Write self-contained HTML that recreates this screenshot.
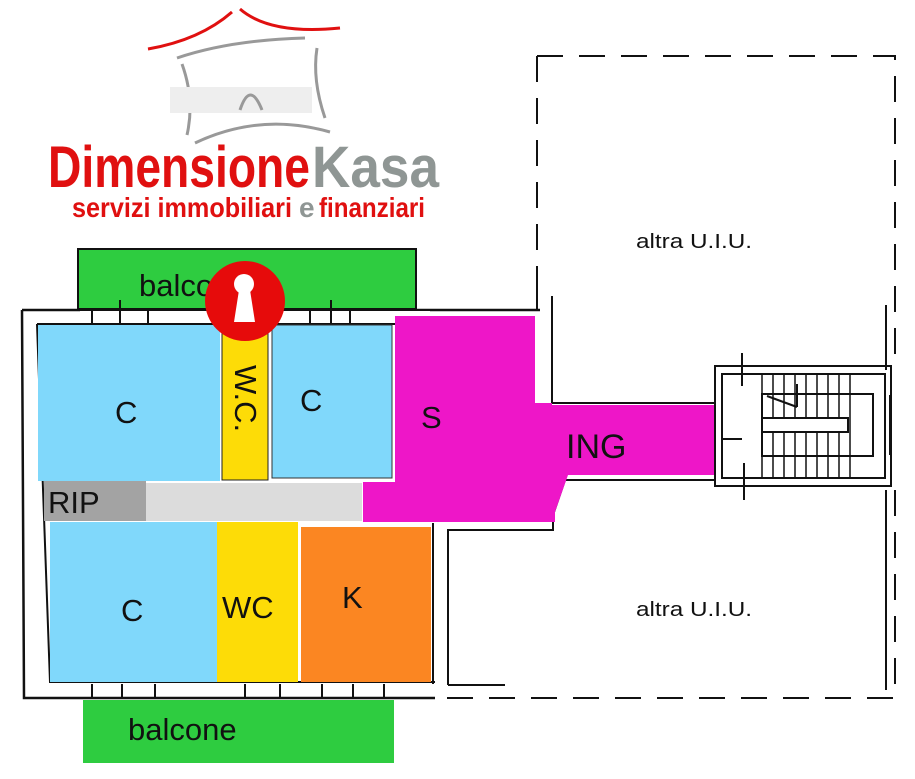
<!DOCTYPE html>
<html><head><meta charset="utf-8"><style>
html,body{margin:0;padding:0;background:#fff;}
svg{display:block}
text{font-family:"Liberation Sans",sans-serif;}
</style></head><body>
<svg width="915" height="779" viewBox="0 0 915 779" xmlns="http://www.w3.org/2000/svg">
<!-- logo -->
<path d="M148 49 Q200 40 232 12" stroke="#e01010" stroke-width="3" fill="none"/>
<path d="M240 9 Q270 35 340 28" stroke="#e01010" stroke-width="3" fill="none"/>
<path d="M177 58 Q230 40 305 38" stroke="#999" stroke-width="3" fill="none"/>
<path d="M182 64 Q195 100 187 135" stroke="#999" stroke-width="3" fill="none"/>
<path d="M317 48 Q312 80 325 118" stroke="#999" stroke-width="3" fill="none"/>
<path d="M195 143 Q260 112 330 132" stroke="#999" stroke-width="3" fill="none"/>
<rect x="170" y="87" width="142" height="26" fill="#eee"/>
<path d="M240 110 Q250 80 262 110" stroke="#999" stroke-width="3" fill="none"/>
<text x="48" y="187" font-family="Liberation Sans Narrow,Liberation Sans,sans-serif" font-weight="bold" font-size="58" fill="#e01010" textLength="262" lengthAdjust="spacingAndGlyphs">Dimensione</text>
<text x="312" y="187" font-family="Liberation Sans Narrow,Liberation Sans,sans-serif" font-weight="bold" font-size="58" fill="#8f9694" textLength="127" lengthAdjust="spacingAndGlyphs">Kasa</text>
<text x="72" y="217" font-family="Liberation Sans Narrow,Liberation Sans,sans-serif" font-weight="bold" font-size="28" fill="#e01010" textLength="220" lengthAdjust="spacingAndGlyphs">servizi immobiliari</text>
<text x="299" y="217" font-family="Liberation Sans Narrow,Liberation Sans,sans-serif" font-weight="bold" font-size="28" fill="#8f9694">e</text>
<text x="319" y="217" font-family="Liberation Sans Narrow,Liberation Sans,sans-serif" font-weight="bold" font-size="28" fill="#e01010" textLength="106" lengthAdjust="spacingAndGlyphs">finanziari</text>

<!-- dashed other units -->
<g stroke="#111" stroke-width="2" fill="none" stroke-dasharray="26,16">
<path d="M537 56 L895 56 L895 370"/>
<path d="M537 56 L537 295"/>
<path d="M895 490 L895 698 L420 698"/>
</g>
<g stroke="#111" stroke-width="2" fill="none">
<path d="M537 285 L537 310"/>
<path d="M552 296 L552 403 L715 403"/>
<path d="M886 305 L886 370"/>
<path d="M448 685 L448 530 L553 530 L553 515 L565 480 L715 480"/>
<path d="M886 490 L886 690"/>
<path d="M505 685 L448 685"/>
</g>

<!-- balcony top -->
<rect x="78" y="249" width="338" height="60" fill="#2ecc40" stroke="#111" stroke-width="2"/>
<text x="139" y="296" font-size="31" fill="#111">balcone</text>

<!-- outer walls -->
<path d="M22 310 L540 310 M22 310 L24 698 L435 698" stroke="#111" stroke-width="2.5" fill="none"/>
<path d="M37 324 L395 324 M37 324 L50 682 L435 682" stroke="#111" stroke-width="2" fill="none"/>
<rect x="80" y="311" width="350" height="12" fill="#fff"/>
<g stroke="#111" stroke-width="2"><line x1="120" y1="300" x2="120" y2="333"/><line x1="331" y1="300" x2="331" y2="328"/><line x1="92" y1="311" x2="92" y2="323"/><line x1="148" y1="311" x2="148" y2="323"/><line x1="310" y1="311" x2="310" y2="323"/><line x1="350" y1="311" x2="350" y2="323"/></g>

<!-- rooms -->
<rect x="38" y="325" width="182" height="156" fill="#80d8fb"/>
<rect x="222" y="330" width="46" height="150" fill="#fddc07" stroke="#222" stroke-width="1"/>
<rect x="272" y="325" width="120" height="153" fill="#80d8fb" stroke="#333" stroke-width="1"/>
<path d="M395 324 L395 316 L535 316 L535 403 L552 403 L552 405 L715 405 L715 475 L568 475 L555 512 L555 522 L363 522 L363 482 L395 482 Z" fill="#ee16c8"/>
<rect x="44" y="481" width="102" height="40" fill="#a3a3a3"/>
<rect x="146" y="483" width="216" height="38" fill="#dcdcdc"/>
<rect x="50" y="522" width="167" height="160" fill="#80d8fb"/>
<rect x="217" y="522" width="81" height="160" fill="#fddc07"/>
<rect x="301" y="527" width="130" height="155" fill="#fb8622"/>
<line x1="433" y1="523" x2="433" y2="684" stroke="#111" stroke-width="2"/>

<!-- bottom balcony -->
<rect x="83" y="700" width="311" height="63" fill="#2ecc40"/>
<g stroke="#111" stroke-width="2"><line x1="92" y1="684" x2="92" y2="697"/><line x1="122" y1="684" x2="122" y2="697"/><line x1="155" y1="684" x2="155" y2="697"/><line x1="245" y1="684" x2="245" y2="697"/><line x1="280" y1="684" x2="280" y2="697"/><line x1="322" y1="684" x2="322" y2="697"/><line x1="353" y1="684" x2="353" y2="697"/><line x1="384" y1="684" x2="384" y2="697"/></g>

<!-- stairs -->
<g stroke="#111" stroke-width="2" fill="none">
<rect x="715" y="366" width="176" height="120"/>
<rect x="722" y="374" width="163" height="104"/>
<rect x="762" y="394" width="111" height="62"/>
<rect x="762" y="418" width="86" height="14" fill="#fff"/>
<line x1="742" y1="353" x2="742" y2="386"/><line x1="744" y1="463" x2="744" y2="500"/>
<line x1="722" y1="439" x2="742" y2="439"/>
<line x1="767" y1="396" x2="797" y2="407"/><line x1="797" y1="384" x2="797" y2="407"/>
<line x1="890" y1="395" x2="890" y2="455"/>
</g>
<g stroke="#111" stroke-width="1.5">
<line x1="762" y1="374" x2="762" y2="478"/><line x1="773" y1="374" x2="773" y2="418"/><line x1="784" y1="374" x2="784" y2="418"/><line x1="795" y1="374" x2="795" y2="418"/><line x1="806" y1="374" x2="806" y2="418"/><line x1="817" y1="374" x2="817" y2="418"/><line x1="828" y1="374" x2="828" y2="418"/><line x1="839" y1="374" x2="839" y2="418"/><line x1="850" y1="374" x2="850" y2="478"/>
<line x1="773" y1="432" x2="773" y2="478"/><line x1="784" y1="432" x2="784" y2="478"/><line x1="795" y1="432" x2="795" y2="478"/><line x1="806" y1="432" x2="806" y2="478"/><line x1="817" y1="432" x2="817" y2="478"/><line x1="828" y1="432" x2="828" y2="478"/><line x1="839" y1="432" x2="839" y2="478"/>
</g>

<!-- labels -->
<g font-size="31" fill="#111">
<text x="115" y="423">C</text>
<text x="300" y="411">C</text>
<text x="421" y="428">S</text>
<text x="566" y="458" font-size="34">ING</text>
<text x="48" y="513">RIP</text>
<text x="121" y="621">C</text>
<text x="222" y="618">WC</text>
<text x="342" y="608">K</text>
<text x="128" y="740">balcone</text>
<text transform="translate(235,365) rotate(90)">W.C.</text>
</g>
<text x="636" y="248" font-size="20" fill="#111" textLength="116" lengthAdjust="spacingAndGlyphs">altra U.I.U.</text>
<text x="636" y="616" font-size="20" fill="#111" textLength="116" lengthAdjust="spacingAndGlyphs">altra U.I.U.</text>

<!-- keyhole icon -->
<circle cx="245" cy="301" r="40" fill="#e60b0b"/>
<circle cx="244" cy="284" r="10" fill="#fff"/>
<path d="M239 290 L250 290 L255 322 L234 322 Z" fill="#fff"/>
</svg>
</body></html>
